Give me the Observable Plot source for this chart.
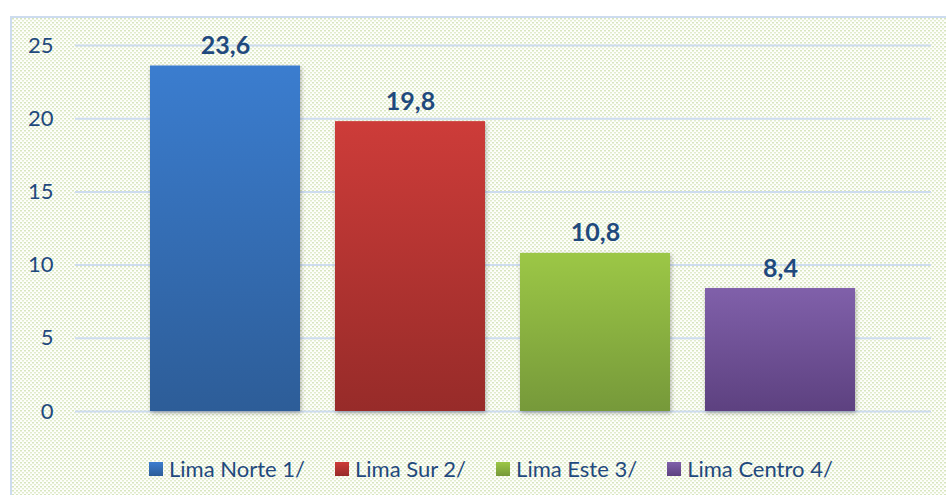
<!DOCTYPE html>
<html>
<head>
<meta charset="utf-8">
<script src="https://cdn.jsdelivr.net/npm/d3@7"></script>
<script src="https://cdn.jsdelivr.net/npm/@observablehq/plot@0.6"></script>
<style>
  html, body { margin: 0; padding: 0; width: 946px; height: 495px; overflow: hidden; background: #fff; }
  #frame {
    position: absolute; left: 10px; top: 16px; width: 960px; height: 500px;
    border: 2px solid #cddcef; box-sizing: border-box;
    background-color: #fdfefb;
    background-image: url("data:image/svg+xml;utf8,<svg xmlns='http://www.w3.org/2000/svg' width='4' height='4'><rect x='0' y='0' width='2' height='1.5' fill='%23d8e5bf'/><rect x='2' y='2' width='2' height='1.5' fill='%23e2ebcd'/></svg>");
  }
  #chart { position: absolute; left: 0; top: 0; }
  #legend {
    position: absolute; left: 137px; top: 437px; display: flex; align-items: center;
    font-family: Lato, "Open Sans", sans-serif; font-size: 22px; color: #1f497d;
  }
  .item { display: flex; align-items: center; margin-right: 30px; }
  .sw { width: 14px; height: 14px; margin-right: 6px; }
</style>
</head>
<body>
<div id="frame"><div id="chart"></div><div id="legend"></div></div>
<script>
const regions = ["Lima Norte 1/", "Lima Sur 2/", "Lima Este 3/", "Lima Centro 4/"];
const values = [23.6, 19.8, 10.8, 8.4];
const valueLabels = ["23,6", "19,8", "10,8", "8,4"];
const yTicks = [0, 5, 10, 15, 20, 25];
const topColors = ["#3b7dcf", "#cd3c39", "#9cc746", "#8060aa"];
const bottomColors = ["#2d5d98", "#972b29", "#76993a", "#5d4180"];

const data = regions.map((r, i) => ({region: r, value: values[i], label: valueLabels[i]}));
const textColor = "#1f497d";

const svg = Plot.plot({
  width: 934,
  height: 420,
  marginTop: 27,
  marginBottom: 27,
  marginLeft: 63,
  marginRight: 15,
  style: {background: "transparent", fontFamily: "Lato, 'Open Sans', sans-serif", overflow: "visible"},
  x: {domain: regions, paddingInner: 0.187, paddingOuter: 0.4, axis: null},
  y: {domain: [0, 25], ticks: yTicks, label: null},
  color: {domain: regions, range: regions.map((_, i) => `url(#grad${i})`)},
  marks: [
    Plot.gridY(yTicks, {stroke: "#cddcef", strokeOpacity: 1, strokeWidth: 2}),
    Plot.axisY(yTicks, {tickSize: 0, tickPadding: 22, fontSize: 22, fill: textColor, tickFormat: d => String(d)}),
    Plot.barY(data, {x: "region", y: "value", fill: "region"}),
    Plot.text(data, {x: "region", y: "value", text: "label", dy: -20, fontSize: 25, fontWeight: "bold", fill: textColor})
  ]
});

const defs = d3.select(svg).insert("defs", ":first-child");
regions.forEach((_, i) => {
  const g = defs.append("linearGradient").attr("id", `grad${i}`).attr("x1", 0).attr("y1", 0).attr("x2", 0).attr("y2", 1);
  g.append("stop").attr("offset", "0%").attr("stop-color", topColors[i]);
  g.append("stop").attr("offset", "100%").attr("stop-color", bottomColors[i]);
});
d3.select(svg).selectAll("g[aria-label='bar'] rect").style("filter", "drop-shadow(1px 2px 2px rgba(0,0,0,0.3))");

document.getElementById("chart").appendChild(svg);

const legend = d3.select("#legend");
regions.forEach((r, i) => {
  const it = legend.append("div").attr("class", "item");
  it.append("div").attr("class", "sw").style("background", `linear-gradient(${topColors[i]}, ${bottomColors[i]})`);
  it.append("span").text(r);
});
</script>
</body>
</html>
